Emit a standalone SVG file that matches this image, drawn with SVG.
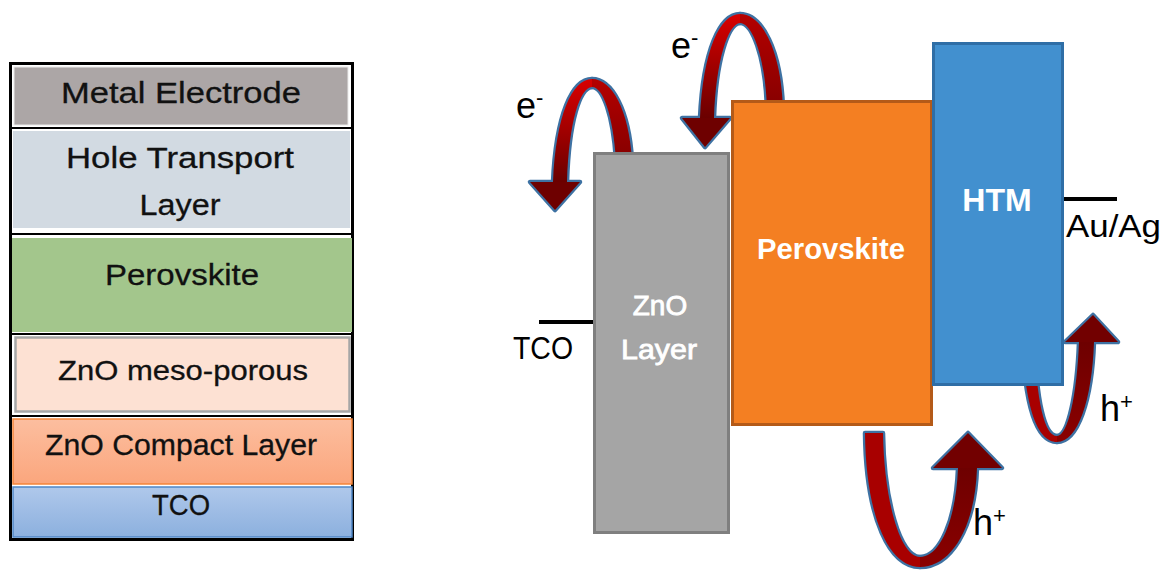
<svg xmlns="http://www.w3.org/2000/svg" width="1161" height="570" viewBox="0 0 1161 570">
<style>
text{font-family:"Liberation Sans",Arial,sans-serif;}
.lbl{font-size:30px;fill:#111;text-anchor:middle;stroke:#111;stroke-width:0.3;}
.wt{fill:#fff;text-anchor:middle;}
.semi{stroke:#fff;stroke-width:0.8;}
.big{font-size:36px;fill:#000;}
.sup{font-size:22px;}
.ol{fill:none;stroke:#3e72a3;stroke-width:4.5;stroke-linejoin:round;}
.sep{stroke:#000;stroke-width:2;}
.lead{stroke:#000;stroke-width:4;}
</style>
<defs>
<linearGradient id="gFront" x1="0" y1="0" x2="0" y2="1">
<stop offset="0" stop-color="#d80000"/><stop offset="1" stop-color="#6a0000"/>
</linearGradient>
<linearGradient id="gBack" x1="0" y1="0" x2="0" y2="1">
<stop offset="0" stop-color="#b40000"/><stop offset="1" stop-color="#860000"/>
</linearGradient>
<linearGradient id="gUpFront" x1="0" y1="0" x2="0" y2="1">
<stop offset="0" stop-color="#6e0000"/><stop offset="1" stop-color="#8a0000"/>
</linearGradient>
<linearGradient id="gCompact" x1="0" y1="0" x2="0" y2="1">
<stop offset="0" stop-color="#fcbe9f"/><stop offset="1" stop-color="#fba67d"/>
</linearGradient>
<linearGradient id="gTco" x1="0" y1="0" x2="0" y2="1">
<stop offset="0" stop-color="#afc8eb"/><stop offset="1" stop-color="#8cb0de"/>
</linearGradient>
<path id="a1L" d="M553,182 C556,115 572,79 592,79 L592,87 C580,88 569,120 567,182 Z"/>
<path id="a1H" d="M530,182 L580,182 L555,210 Z"/>
<path id="a1R" d="M592,79 C612,79 629,110 632,160 L616,160 C613,115 603,87 592,87 Z"/>
<path id="a2L" d="M700,118 C703,50 720,14 740,14 L740,23 C728,24 716,60 714,118 Z"/>
<path id="a2H" d="M682,118 L730,118 L705,147 Z"/>
<path id="a2R" d="M740,14 C762,14 781,50 783,108 L767,108 C765,55 752,23 740,23 Z"/>
<path id="a3L" d="M865,433 L883,433 C884,500 900,557 920,557 L920,567 C890,567 866,520 865,433 Z"/>
<path id="a3R" d="M920,567 C950,567 975,530 977,468 L958,468 C956,520 940,557 920,557 Z"/>
<path id="a3H" d="M933,468 L968,433 L1002,468 Z"/>
<path id="a4L" d="M1022,330 L1034,330 C1036,405 1045,436 1057,436 L1057,442 C1038,442 1024,410 1022,330 Z"/>
<path id="a4R" d="M1057,442 C1078,442 1092,400 1094,342 L1079,342 C1077,395 1068,436 1057,436 Z"/>
<path id="a4H" d="M1065,342 L1093,315 L1118,342 Z"/>
</defs>

<rect width="1161" height="570" fill="#fff"/>

<!-- Left layer stack -->
<g id="stack">
<rect x="10.5" y="63.5" width="342" height="476" fill="#fff" stroke="#000" stroke-width="3"/>
<line class="sep" x1="12" y1="128" x2="351" y2="128"/>
<line class="sep" x1="12" y1="234" x2="351" y2="234"/>
<line class="sep" x1="12" y1="334" x2="351" y2="334"/>
<line class="sep" x1="12" y1="416" x2="351" y2="416"/>
</g>
<g id="metal-electrode">
<rect x="14" y="67" width="334" height="58" fill="#aca6a6" stroke="#e9e9e9" stroke-width="1"/>
<text class="lbl" x="181" y="103" textLength="240" lengthAdjust="spacingAndGlyphs">Metal Electrode</text>
</g>
<g id="hole-transport-layer">
<rect x="13" y="131" width="337" height="97" fill="#d2dae2"/>
<text class="lbl" x="180" y="168" textLength="228" lengthAdjust="spacingAndGlyphs">Hole Transport</text>
<text class="lbl" x="180" y="215" textLength="81" lengthAdjust="spacingAndGlyphs">Layer</text>
</g>
<g id="perovskite-layer">
<rect x="12" y="238" width="340" height="94" fill="#a3c68c"/>
<text class="lbl" x="182" y="285" textLength="154" lengthAdjust="spacingAndGlyphs">Perovskite</text>
</g>
<g id="zno-mesoporous">
<rect x="15.5" y="337.5" width="334" height="74" fill="#fde1d3" stroke="#a6a6a6" stroke-width="2.5"/>
<text class="lbl" x="183" y="380" style="font-size:28px" textLength="250" lengthAdjust="spacingAndGlyphs">ZnO meso-porous</text>
</g>
<g id="zno-compact">
<rect x="13" y="419" width="339" height="65" fill="url(#gCompact)" stroke="#f4853a" stroke-width="1.5"/>
<text class="lbl" x="181" y="455" textLength="272" lengthAdjust="spacingAndGlyphs">ZnO Compact Layer</text>
</g>
<g id="tco-layer">
<rect x="13" y="487" width="339" height="50" fill="url(#gTco)" stroke="#4f86c6" stroke-width="1.5"/>
<text class="lbl" x="181" y="515" textLength="58" lengthAdjust="spacingAndGlyphs">TCO</text>
</g>

<!-- Connectors: curved charge-transfer arrows -->
<g id="connectors">
<g id="arrow-e1">
<use href="#a1L" class="ol"/><use href="#a1H" class="ol"/><use href="#a1R" class="ol"/>
<use href="#a1R" fill="url(#gBack)"/><use href="#a1L" fill="url(#gFront)"/><use href="#a1H" fill="#6e0000"/>
</g>
<g id="arrow-e2">
<use href="#a2L" class="ol"/><use href="#a2H" class="ol"/><use href="#a2R" class="ol"/>
<use href="#a2R" fill="url(#gBack)"/><use href="#a2L" fill="url(#gFront)"/><use href="#a2H" fill="#6e0000"/>
</g>
<g id="arrow-h1">
<use href="#a3L" class="ol"/><use href="#a3R" class="ol"/><use href="#a3H" class="ol"/>
<use href="#a3L" fill="#a80000"/><use href="#a3R" fill="url(#gUpFront)"/><use href="#a3H" fill="#720000"/>
</g>
<g id="arrow-h2">
<use href="#a4L" class="ol"/><use href="#a4R" class="ol"/><use href="#a4H" class="ol"/>
<use href="#a4L" fill="#a80000"/><use href="#a4R" fill="url(#gUpFront)"/><use href="#a4H" fill="#720000"/>
</g>
<line class="lead" x1="539" y1="322" x2="594" y2="322"/>
<line class="lead" x1="1063" y1="199" x2="1117" y2="199"/>
</g>

<!-- Band diagram blocks -->
<g id="zno-block">
<rect x="594.5" y="153.5" width="134" height="379" fill="#a5a5a5" stroke="#7f7f7f" stroke-width="3"/>
<text class="wt semi" x="660" y="315" style="font-size:28px">ZnO</text>
<text class="wt semi" x="659" y="359" style="font-size:28px" textLength="76" lengthAdjust="spacingAndGlyphs">Layer</text>
</g>
<g id="perovskite-block">
<rect x="732.5" y="101.5" width="199" height="323" fill="#f47f22" stroke="#b45a18" stroke-width="3"/>
<text class="wt" x="831" y="259" style="font-size:30px;font-weight:bold" textLength="148" lengthAdjust="spacingAndGlyphs">Perovskite</text>
</g>
<g id="htm-block">
<rect x="933.5" y="43.5" width="129" height="341" fill="#4290cf" stroke="#2f6ea6" stroke-width="3"/>
<text class="wt" x="997" y="211" style="font-size:32px;font-weight:bold">HTM</text>
</g>

<!-- Labels -->
<g id="labels">
<text x="513" y="359" style="font-size:31px;fill:#000" textLength="60" lengthAdjust="spacingAndGlyphs">TCO</text>
<text x="1066" y="237" style="font-size:31px;fill:#000" textLength="95" lengthAdjust="spacingAndGlyphs">Au/Ag</text>
<text class="big" x="516" y="118">e<tspan class="sup" dy="-13">-</tspan></text>
<text class="big" x="671" y="58">e<tspan class="sup" dy="-13">-</tspan></text>
<text class="big" x="973" y="535">h<tspan class="sup" dy="-12">+</tspan></text>
<text class="big" x="1100" y="421">h<tspan class="sup" dy="-12">+</tspan></text>
</g>
</svg>
